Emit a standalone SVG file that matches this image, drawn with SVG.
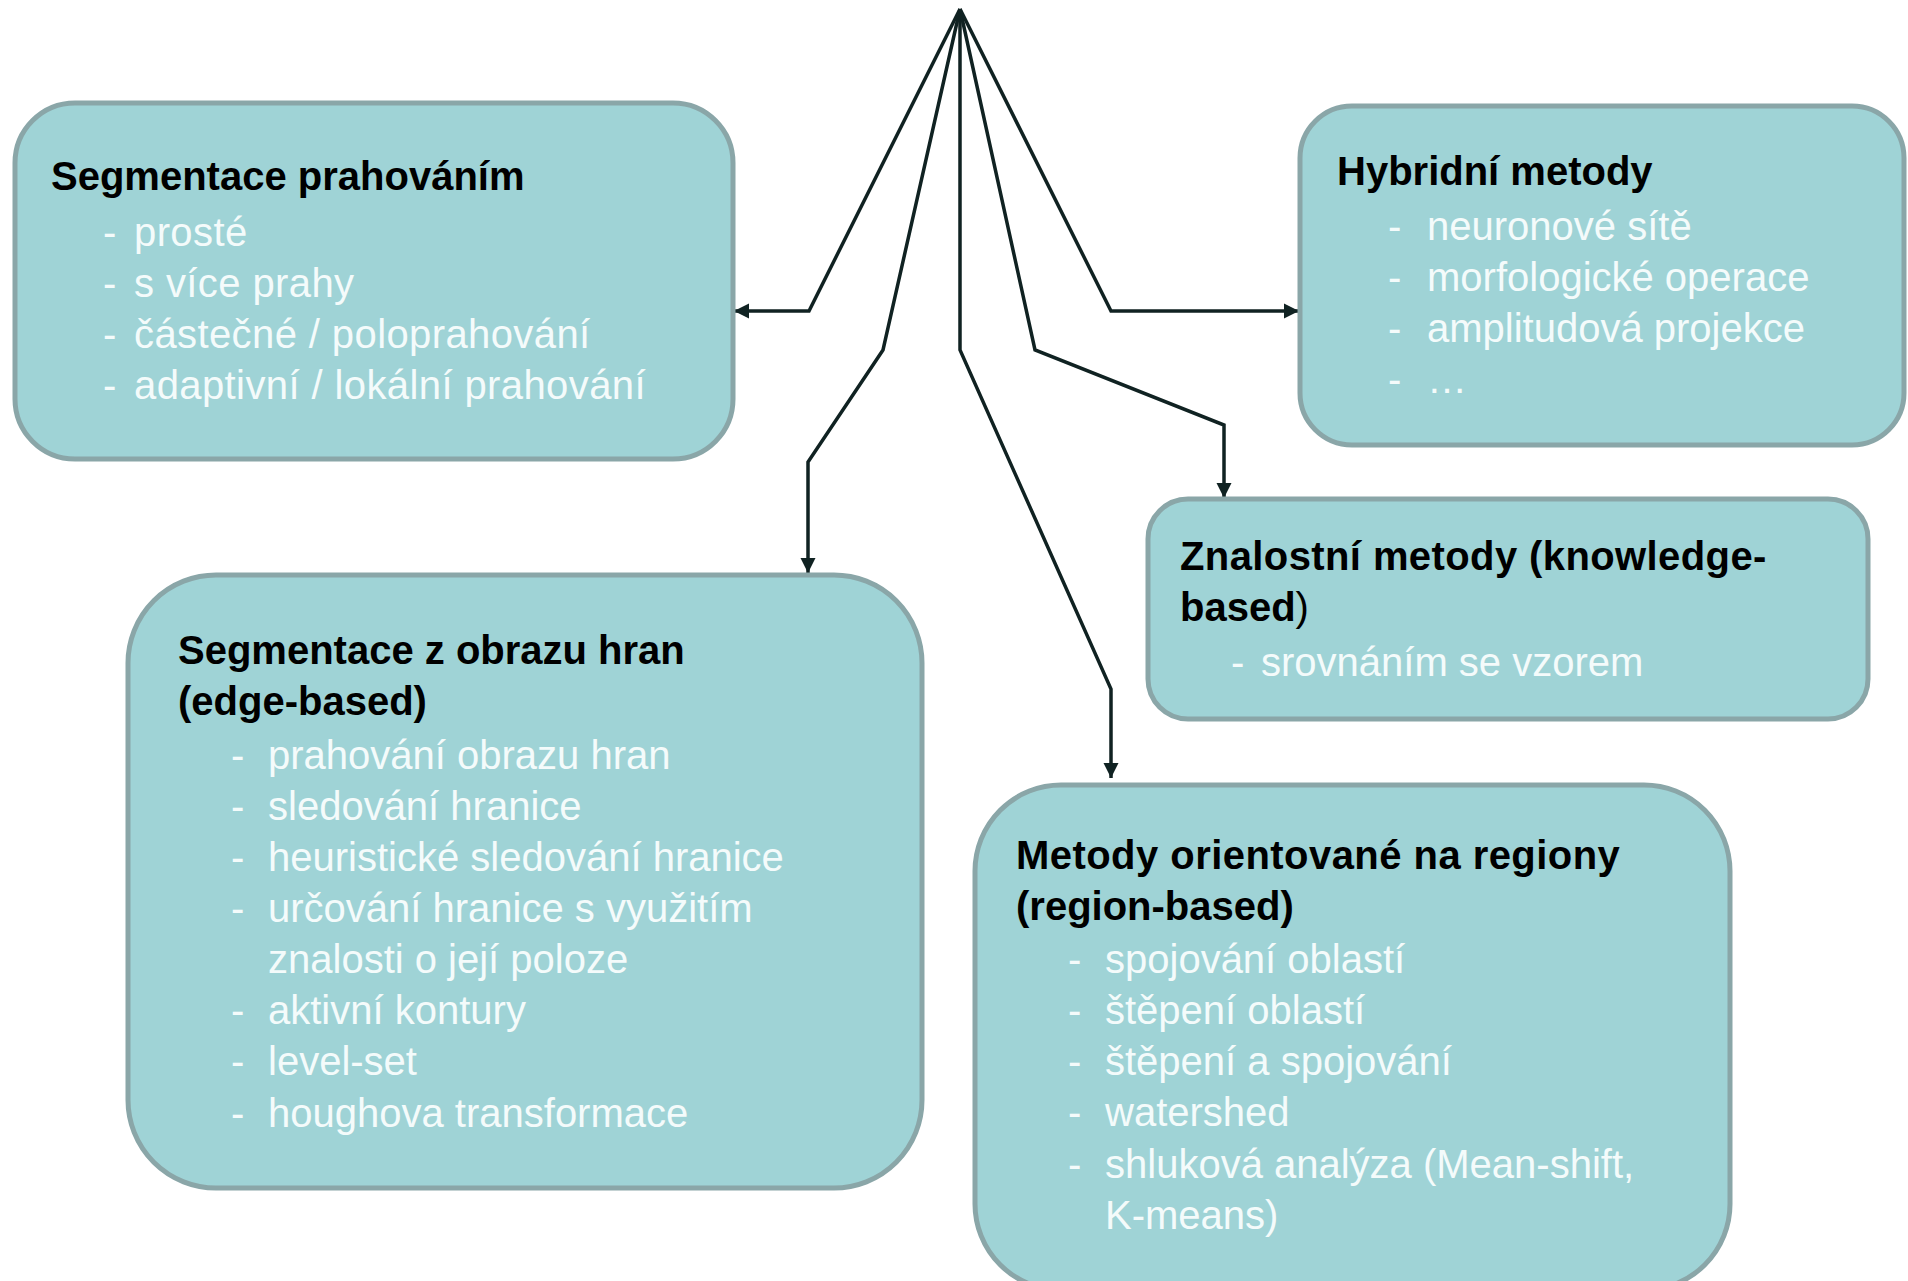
<svg xmlns="http://www.w3.org/2000/svg" width="1908" height="1281" viewBox="0 0 1908 1281">
<style>
.box{fill:#9fd3d6;stroke:#8aa6a8;stroke-width:5}
.t{font-family:"Liberation Sans",Arial,sans-serif;font-size:40px;font-weight:bold;fill:#000}
.i{font-family:"Liberation Sans",Arial,sans-serif;font-size:40px;fill:#f4fbfb}
.n{font-weight:normal}
.c{fill:none;stroke:#102222;stroke-width:3.5;stroke-linejoin:miter}
</style>
<defs>
<marker id="ah" markerUnits="userSpaceOnUse" markerWidth="16" markerHeight="16" refX="15" refY="8" orient="auto">
<path d="M0,0.5 L15,8 L0,15.5 Z" fill="#102222"/>
</marker>
</defs>
<rect width="1908" height="1281" fill="#fff"/>
<g id="connectors">
<path class="c" d="M960,9 L809,311 L734,311" marker-end="url(#ah)"/>
<path class="c" d="M960,9 L883,350 L808,462 L808,573" marker-end="url(#ah)"/>
<path class="c" d="M960,9 L960,350 L1111,689 L1111,778" marker-end="url(#ah)"/>
<path class="c" d="M960,9 L1035,350 L1224,425 L1224,498" marker-end="url(#ah)"/>
<path class="c" d="M960,9 L1111,311 L1299,311" marker-end="url(#ah)"/>
</g>
<g id="node-prahovani">
<rect class="box" x="15" y="103" width="718" height="356" rx="60" ry="60"/>
<text class="t" x="51" y="190">Segmentace prahováním</text>
<text class="i" y="246"><tspan x="103">-</tspan><tspan x="134" letter-spacing="0.4">prosté</tspan></text>
<text class="i" y="297"><tspan x="103">-</tspan><tspan x="134" letter-spacing="0.4">s více prahy</tspan></text>
<text class="i" y="348"><tspan x="103">-</tspan><tspan x="134" letter-spacing="0.4">částečné / poloprahování</tspan></text>
<text class="i" y="399"><tspan x="103">-</tspan><tspan x="134" letter-spacing="0.4">adaptivní / lokální prahování</tspan></text>
</g>
<g id="node-hybridni">
<rect class="box" x="1300" y="106" width="604" height="339" rx="52" ry="52"/>
<text class="t" x="1337" y="185">Hybridní metody</text>
<text class="i" y="240"><tspan x="1388">-</tspan><tspan x="1427">neuronové sítě</tspan></text>
<text class="i" y="291"><tspan x="1388">-</tspan><tspan x="1427">morfologické operace</tspan></text>
<text class="i" y="342"><tspan x="1388">-</tspan><tspan x="1427">amplitudová projekce</tspan></text>
<text class="i" y="393"><tspan x="1388">-</tspan><tspan x="1427">…</tspan></text>
</g>
<g id="node-znalostni">
<rect class="box" x="1148" y="499" width="720" height="220" rx="40" ry="40"/>
<text class="t" x="1180" y="570" letter-spacing="0.4">Znalostní metody (knowledge-</text>
<text class="t" x="1180" y="621">based<tspan class="n">)</tspan></text>
<text class="i" y="676"><tspan x="1231">-</tspan><tspan x="1261">srovnáním se vzorem</tspan></text>
</g>
<g id="node-hrany">
<rect class="box" x="128" y="575" width="794" height="613" rx="88" ry="88"/>
<text class="t" x="178" y="664">Segmentace z obrazu hran</text>
<text class="t" x="178" y="715">(edge-based)</text>
<text class="i" y="769"><tspan x="231">-</tspan><tspan x="268">prahování obrazu hran</tspan></text>
<text class="i" y="820"><tspan x="231">-</tspan><tspan x="268">sledování hranice</tspan></text>
<text class="i" y="871"><tspan x="231">-</tspan><tspan x="268">heuristické sledování hranice</tspan></text>
<text class="i" y="922"><tspan x="231">-</tspan><tspan x="268">určování hranice s využitím</tspan></text>
<text class="i" y="973"><tspan x="268">znalosti o její poloze</tspan></text>
<text class="i" y="1024"><tspan x="231">-</tspan><tspan x="268">aktivní kontury</tspan></text>
<text class="i" y="1075"><tspan x="231">-</tspan><tspan x="268">level-set</tspan></text>
<text class="i" y="1127"><tspan x="231">-</tspan><tspan x="268">houghova transformace</tspan></text>
</g>
<g id="node-regiony">
<rect class="box" x="975" y="785" width="755" height="505" rx="86" ry="86"/>
<text class="t" x="1016" y="869" letter-spacing="0.45">Metody orientované na regiony</text>
<text class="t" x="1016" y="920">(region-based)</text>
<text class="i" y="973"><tspan x="1068">-</tspan><tspan x="1105">spojování oblastí</tspan></text>
<text class="i" y="1024"><tspan x="1068">-</tspan><tspan x="1105">štěpení oblastí</tspan></text>
<text class="i" y="1075"><tspan x="1068">-</tspan><tspan x="1105">štěpení a spojování</tspan></text>
<text class="i" y="1126"><tspan x="1068">-</tspan><tspan x="1105">watershed</tspan></text>
<text class="i" y="1178"><tspan x="1068">-</tspan><tspan x="1105">shluková analýza (Mean-shift,</tspan></text>
<text class="i" y="1229"><tspan x="1105">K-means)</tspan></text>
</g>
</svg>
